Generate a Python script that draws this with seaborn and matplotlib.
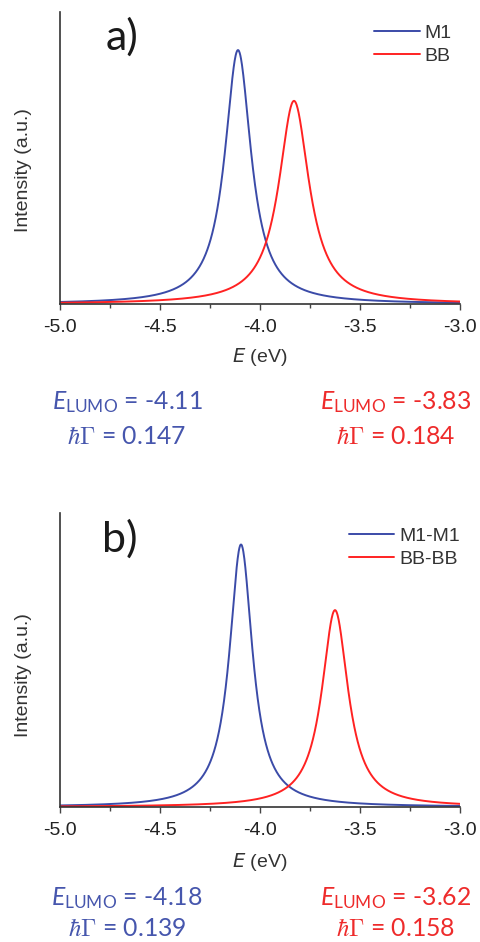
import numpy as np
import pandas as pd
import seaborn as sns
import matplotlib
matplotlib.use("Agg")
import matplotlib.pyplot as plt

# ---- data ----
panels = ["a)", "b)"]
series_a = ["M1", "BB"]
series_b = ["M1-M1", "BB-BB"]
peak_center_a = [-4.11, -3.83]     # eV, peak positions in panel a
peak_center_b = [-4.095, -3.625]   # eV, peak positions in panel b
fwhm_a = [0.160, 0.185]            # eV, peak widths panel a
fwhm_b = [0.140, 0.160]            # eV, peak widths panel b
peak_height_a = [1.0, 0.80]        # a.u.
peak_height_b = [1.0, 0.75]        # a.u.
ymax = [1.15, 1.12]
elumo_a = ["-4.11", "-3.83"]
gamma_a = ["0.147", "0.184"]
elumo_b = ["-4.18", "-3.62"]
gamma_b = ["0.139", "0.158"]
xticks = [-5.0, -4.5, -4.0, -3.5, -3.0]
xticklabels = ["-5.0", "-4.5", "-4.0", "-3.5", "-3.0"]

BLUE = "#3b4ba8"
RED = "#ff2222"
TBLUE = "#4656ad"
TRED = "#ee2b2b"

sns.set_theme(style="white")
plt.rcParams["font.family"] = ["Liberation Sans", "DejaVu Sans"]
plt.rcParams["mathtext.fontset"] = "custom"
plt.rcParams["mathtext.rm"] = "Lato"
plt.rcParams["mathtext.it"] = "Lato:italic"
plt.rcParams["mathtext.bf"] = "Lato:bold"
plt.rcParams["mathtext.sf"] = "Lato"

W, H = 480, 942
fig = plt.figure(figsize=(W / 100, H / 100), dpi=100)


def fx(px):
    return px / W


def fy(py):
    return 1 - py / H


x = np.linspace(-5.0, -3.0, 1201)


def lorentz(c, w, h):
    g = w / 2
    return h * g ** 2 / ((x - c) ** 2 + g ** 2)


axes_px = [(60, 12, 460, 304), (60, 513, 460, 807)]
centers = [peak_center_a, peak_center_b]
widths = [fwhm_a, fwhm_b]
heights = [peak_height_a, peak_height_b]
names = [series_a, series_b]
elumos = [elumo_a, elumo_b]
gammas = [gamma_a, gamma_b]
legend_anchor = [(452, 24), (460, 527)]
label_pos = [(106, 50), (102, 552)]
xlabel_y = [357, 862]
ylabel_cy = [170, 675]
text_y = [(402, 437), (898, 928)]

for i in range(2):
    l, t, r, b = axes_px[i]
    ax = fig.add_axes([fx(l), fy(b), fx(r - l), (b - t) / H])
    frames = []
    for j in range(2):
        frames.append(pd.DataFrame({
            "E": x,
            "I": lorentz(centers[i][j], widths[i][j], heights[i][j]),
            "s": names[i][j],
        }))
    df = pd.concat(frames, ignore_index=True)
    sns.lineplot(data=df, x="E", y="I", hue="s", palette=[BLUE, RED],
                 linewidth=1.4, ax=ax, legend=True)
    ax.set_xlim(-5.0, -3.0)
    ax.set_ylim(0, ymax[i])
    ax.set_xticks(xticks)
    ax.set_xticklabels(xticklabels)
    ax.set_xticks(np.arange(-4.75, -3.0, 0.5), minor=True)
    ax.set_yticks([])
    ax.tick_params(axis="x", which="major", direction="out", length=4,
                   width=1, color="#444444", pad=7, labelsize=14,
                   labelcolor="#222222", bottom=True)
    ax.tick_params(axis="x", which="minor", direction="out", length=3,
                   width=1, color="#444444", bottom=True)
    for s in ["top", "right"]:
        ax.spines[s].set_visible(False)
    for s in ["left", "bottom"]:
        ax.spines[s].set_color("#333333")
        ax.spines[s].set_linewidth(1.2)
    ax.set_xlabel("")
    ax.set_ylabel("")
    fig.text(fx(24), fy(ylabel_cy[i]), "Intensity (a.u.)", fontsize=14,
             color="#333333", rotation=90, ha="center", va="center")
    fig.text(fx(260), fy(xlabel_y[i]), r"$\mathit{E}$ (eV)", fontsize=14,
             color="#333333", ha="center", va="center",
             math_fontfamily="dejavusans")
    leg = ax.legend(loc="upper right",
                    bbox_to_anchor=(fx(legend_anchor[i][0]), fy(legend_anchor[i][1])),
                    bbox_transform=fig.transFigure, frameon=False, fontsize=14,
                    handlelength=2.35, handletextpad=0.25, labelspacing=0.3,
                    borderpad=0, borderaxespad=0, title=None)
    for txt in leg.get_texts():
        txt.set_color("#333333")
    fig.text(fx(label_pos[i][0]), fy(label_pos[i][1]), panels[i],
             fontsize=31, family="Lato", color="#1a1a1a",
             ha="left", va="baseline")
    for j, (cx, col) in enumerate([(127, TBLUE), (396, TRED)]):
        fig.text(fx(cx), fy(text_y[i][0]),
                 r"$E_{\mathrm{LUMO}}$" + " = " + elumos[i][j],
                 fontsize=17.8, family="Lato", color=col,
                 ha="center", va="center", math_fontfamily="custom")
        fig.text(fx(cx), fy(text_y[i][1]),
                 r"$\hbar\Gamma$" + " = " + gammas[i][j],
                 fontsize=17.8, family="Lato", color=col,
                 ha="center", va="center", math_fontfamily="cm")

fig.savefig("out.png", dpi=100)
